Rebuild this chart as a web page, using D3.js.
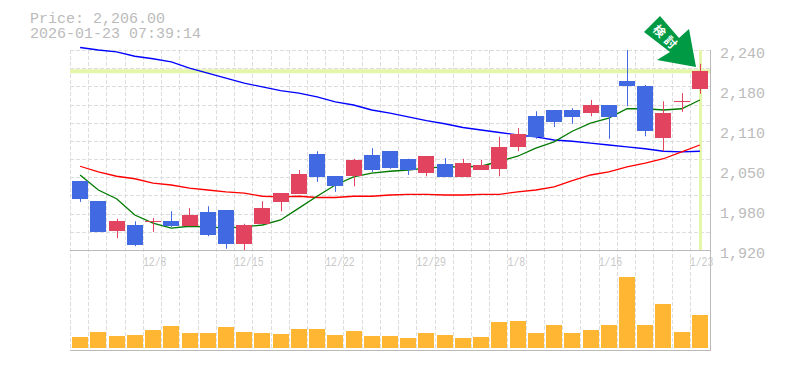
<!DOCTYPE html>
<html>
<head>
<meta charset="utf-8">
<script src="https://cdn.jsdelivr.net/npm/d3@7"></script>
<style>
  html, body { margin: 0; padding: 0; background: #fff; overflow: hidden; }
  text { font-family: "Liberation Mono", monospace; fill: #bbb; }
</style>
</head>
<body>
<script>
// tick labels and header
const dateLabels = [[4, "12/8"], [9, "12/15"], [14, "12/22"], [19, "12/29"], [24, "1/8"], [29, "1/16"], [34, "1/23"]];
const priceTicks = [2240, 2176, 2112, 2048, 1984, 1920];
const priceLabels = ["2,240", "2,180", "2,110", "2,050", "1,980", "1,920"];
const lastPrice = 2206;
const header = ["Price: 2,206.00", "2026-01-23 07:39:14"];

// candles
const opens = [2030, 1998, 1950, 1960, 1964, 1966, 1958, 1981, 1984, 1930, 1962, 1997, 2010, 2074, 2038, 2038, 2072, 2078, 2066, 2043, 2058, 2037, 2048, 2050, 2086, 2134, 2144, 2144, 2139, 2152, 2190, 2182, 2099, 2158, 2178];
const closes = [2002, 1949, 1966, 1928, 1966, 1958, 1976, 1944, 1930, 1960, 1987, 2011, 2042, 2037, 2022, 2064, 2048, 2051, 2048, 2070, 2037, 2059, 2056, 2085, 2106, 2101, 2125, 2133, 2152, 2133, 2182, 2110, 2139, 2159, 2206];
const highs = [2030, 1998, 1970, 1966, 1971, 1982, 1987, 1990, 1984, 1962, 1998, 2011, 2048, 2078, 2038, 2066, 2083, 2078, 2066, 2070, 2067, 2066, 2064, 2101, 2115, 2142, 2144, 2147, 2160, 2152, 2240, 2184, 2158, 2171, 2218];
const lows = [1997, 1949, 1939, 1926, 1949, 1957, 1958, 1942, 1922, 1920, 1962, 1982, 2010, 2029, 2013, 2022, 2045, 2050, 2040, 2038, 2037, 2037, 2048, 2038, 2078, 2098, 2117, 2122, 2134, 2098, 2150, 2102, 2078, 2141, 2170];

// moving averages
const maGreen = [2040, 2016, 2002, 1976, 1963, 1955, 1958, 1957, 1955, 1957, 1960, 1968, 1987, 2006, 2024, 2037, 2043, 2046, 2048, 2051, 2053, 2053, 2054, 2062, 2070, 2083, 2093, 2110, 2123, 2131, 2146, 2146, 2144, 2146, 2160];
const maRed = [2054, 2045, 2038, 2034, 2027, 2024, 2019, 2016, 2013, 2011, 2006, 2005, 2006, 2004, 2004, 2006, 2006, 2008, 2009, 2009, 2008, 2008, 2009, 2009, 2013, 2016, 2021, 2031, 2040, 2045, 2053, 2059, 2066, 2077, 2088];
const maBlue = [2244, 2240, 2237, 2230, 2226, 2221, 2211, 2203, 2195, 2187, 2181, 2175, 2171, 2165, 2157, 2152, 2144, 2139, 2133, 2127, 2122, 2116, 2112, 2108, 2104, 2101, 2096, 2094, 2091, 2088, 2085, 2082, 2078, 2077, 2078];

// volume, relative units
const volumes = [11, 16, 12, 13, 18, 22, 15, 15, 21, 16, 15, 14, 19, 19, 13, 17, 12, 12, 10, 15, 13, 10, 11, 26, 27, 15, 23, 15, 18, 23, 71, 23, 44, 16, 33];

const idx = d3.range(opens.length);
const left = 70, right = 710, top_ = 50, mid = 250, bottom = 350;

const svg = d3.select("body").append("svg")
  .attr("width", 785)
  .attr("height", 370)
  .style("display", "block");

// bands stop a pixel short of the frame
const x = d3.scaleBand().domain(idx).range([left + 1, right - 1]).paddingInner(0.125).paddingOuter(0.0625);
const y = d3.scaleLinear().domain([1920, 2240]).range([mid, top_]);
const yVol = d3.scaleLinear().domain([0, 98]).range([348, mid]);
const step = x.step();
const cx = i => x(i) + x.bandwidth() / 2;

// dashed grid
const grid = svg.append("g")
  .attr("stroke", "#ddd")
  .attr("stroke-dasharray", "4,2")
  .attr("shape-rendering", "crispEdges");
grid.selectAll("line.v").data(idx).enter().append("line")
  .attr("x1", i => Math.round(left + i * step) + 0.5)
  .attr("x2", i => Math.round(left + i * step) + 0.5)
  .attr("y1", top_)
  .attr("y2", bottom);
grid.selectAll("line.h").data(d3.range(1, 12)).enter().append("line")
  .attr("x1", left)
  .attr("x2", right)
  .attr("y1", k => Math.round(y(1920 + k * 320 / 11)) + 0.5)
  .attr("y2", k => Math.round(y(1920 + k * 320 / 11)) + 0.5);

// highlight for the latest price and date
svg.append("rect")
  .attr("x", left).attr("width", right - left)
  .attr("y", y(lastPrice) - 2).attr("height", 4)
  .attr("fill", "#e3f6a9");
svg.append("rect")
  .attr("x", Math.round(cx(34)) - 1).attr("width", 3)
  .attr("y", top_).attr("height", mid - top_)
  .attr("fill", "#e3f6a9");

// frame
const frame = svg.append("g").attr("stroke", "#bbb").attr("shape-rendering", "crispEdges");
frame.append("line").attr("x1", left).attr("x2", right + 1).attr("y1", mid + 0.5).attr("y2", mid + 0.5);
frame.append("line").attr("x1", left).attr("x2", right + 1).attr("y1", bottom + 0.5).attr("y2", bottom + 0.5);
frame.append("line").attr("x1", right + 0.5).attr("x2", right + 0.5).attr("y1", top_).attr("y2", bottom);

// volume bars
svg.selectAll("rect.vol").data(volumes).enter().append("rect")
  .attr("class", "vol")
  .attr("x", (d, i) => Math.round(x(i)))
  .attr("width", 16)
  .attr("y", d => yVol(d))
  .attr("height", d => yVol(0) - yVol(d))
  .attr("fill", "#ffb733");

// moving averages go under the candles
const line = d3.line().x((d, i) => cx(i)).y(d => y(d));
[[maBlue, "#0000ff"], [maRed, "#ff0000"], [maGreen, "#007a00"]].forEach(([values, color]) => {
  svg.append("path")
    .attr("d", line(values))
    .attr("fill", "none")
    .attr("stroke", color)
    .attr("stroke-width", 1.3);
});

// candles, red is up
const colorOf = i => closes[i] >= opens[i] ? "#e2435f" : "#4169e1";
svg.selectAll("rect.wick").data(idx).enter().append("rect")
  .attr("class", "wick")
  .attr("x", i => Math.round(cx(i)))
  .attr("width", 1)
  .attr("y", i => y(highs[i]))
  .attr("height", i => y(lows[i]) - y(highs[i]))
  .attr("fill", colorOf);
svg.selectAll("rect.body").data(idx).enter().append("rect")
  .attr("class", "body")
  .attr("x", i => Math.round(x(i)))
  .attr("width", 16)
  .attr("y", i => Math.round(y(Math.max(opens[i], closes[i]))))
  .attr("height", i => Math.max(1, Math.round(Math.abs(y(opens[i]) - y(closes[i])))))
  .attr("fill", colorOf);

// axis text
svg.selectAll("text.price").data(priceTicks).enter().append("text")
  .attr("class", "price")
  .attr("x", 720)
  .attr("y", d => y(d) + 8)
  .attr("font-size", 15)
  .text((d, i) => priceLabels[i]);
svg.selectAll("text.date").data(dateLabels).enter().append("text")
  .attr("class", "date")
  .attr("x", d => left + d[0] * step)
  .attr("y", 266)
  .attr("font-size", 13)
  .attr("textLength", d => d[1].length * 5.9)
  .attr("lengthAdjust", "spacingAndGlyphs")
  .style("fill", "#c8c8c8")
  .text(d => d[1]);

// header
svg.selectAll("text.head").data(header).enter().append("text")
  .attr("class", "head")
  .attr("x", 30)
  .attr("y", (d, i) => 23 + i * 14.5)
  .attr("font-size", 15)
  .text(d => d);

// green arrow marker
svg.append("polygon")
  .attr("points", "660,16 644,32 670,52 657,60 696,67 689,29 679,38")
  .attr("fill", "#009944");
svg.append("text")
  .attr("transform", "translate(666.5,38) rotate(45)")
  .attr("text-anchor", "middle")
  .attr("dy", "0.38em")
  .attr("font-size", 12)
  .attr("letter-spacing", 4)
  .style("font-family", '"Noto Sans CJK JP"')
  .style("font-weight", "bold")
  .style("fill", "#fff")
  .text("検討");
</script>
</body>
</html>
